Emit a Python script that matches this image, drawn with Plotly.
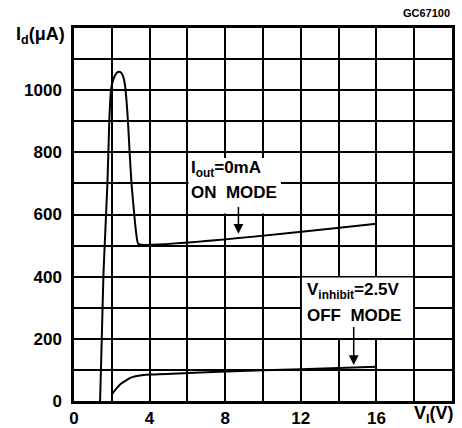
import plotly.graph_objects as go

# ON mode curve (Iout = 0mA)
on_v = [1.38, 1.47, 1.56, 1.77, 1.87, 1.96, 2.05, 2.17, 2.28, 2.4, 2.52, 2.62, 2.7, 2.78, 2.85, 2.94, 3.04, 3.18, 3.29, 3.41, 16]
on_i = [0, 200, 411, 702, 905, 1002, 1028, 1047, 1057, 1059, 1054, 1040, 1015, 965, 905, 803, 702, 605, 540, 505, 570]

# OFF mode curve (Vinhibit = 2.5V)
off_v = [2.03, 2.3, 2.5, 2.8, 3.0, 3.5, 4, 6, 8, 12, 16]
off_i = [24, 44, 56, 68, 75, 82, 85, 90, 95, 102, 110]

x_ticks = [0, 4, 8, 12, 16]
y_ticks = [0, 200, 400, 600, 800, 1000]

FONT = "Liberation Sans"

fig = go.Figure()
fig.add_trace(go.Scatter(x=on_v, y=on_i, mode="lines",
                         line=dict(color="black", width=2, shape="spline", smoothing=0.4),
                         showlegend=False, hoverinfo="skip"))
fig.add_trace(go.Scatter(x=off_v, y=off_i, mode="lines",
                         line=dict(color="black", width=2, shape="spline", smoothing=0.6),
                         showlegend=False, hoverinfo="skip"))

# white label boxes hiding grid lines
fig.add_shape(type="rect", x0=6.06, x1=10.95, y0=603, y1=782, xref="x", yref="y",
              fillcolor="white", line=dict(width=0), layer="between")
fig.add_shape(type="rect", x0=12.06, x1=17.94, y0=203, y1=397, xref="x", yref="y",
              fillcolor="white", line=dict(width=0), layer="between")

ann_font = dict(family=FONT, size=17, color="black", weight="bold")

fig.add_annotation(x=6.1, y=745, xref="x", yref="y", text="I<sub>out</sub>=0mA",
                   showarrow=False, xanchor="left", yanchor="middle", font=ann_font)
fig.add_annotation(x=6.1, y=670, xref="x", yref="y", text="ON&nbsp;&nbsp;MODE",
                   showarrow=False, xanchor="left", yanchor="middle", font=ann_font)
fig.add_annotation(x=8.7, y=538, ax=8.7, ay=629, xref="x", yref="y", axref="x", ayref="y",
                   text="", showarrow=True, arrowhead=2, arrowsize=1.3, arrowwidth=1.5,
                   arrowcolor="black")

fig.add_annotation(x=12.2, y=354, xref="x", yref="y", text="V<sub>inhibit</sub>=2.5V",
                   showarrow=False, xanchor="left", yanchor="middle", font=ann_font)
fig.add_annotation(x=12.2, y=276, xref="x", yref="y", text="OFF&nbsp;&nbsp;MODE",
                   showarrow=False, xanchor="left", yanchor="middle", font=ann_font)
fig.add_annotation(x=14.8, y=116, ax=14.8, ay=243, xref="x", yref="y", axref="x", ayref="y",
                   text="", showarrow=True, arrowhead=2, arrowsize=1.3, arrowwidth=1.5,
                   arrowcolor="black")

# axis titles and code
fig.add_annotation(x=0, y=0.981, xref="paper", yref="paper", xshift=-7,
                   text="I<sub>d</sub>(\u03bcA)", showarrow=False, xanchor="right",
                   yanchor="middle", font=dict(family=FONT, size=18, color="black", weight="bold"))
fig.add_annotation(x=0.952, y=-0.036, xref="paper", yref="paper",
                   text="V<sub>I</sub>(V)", showarrow=False, xanchor="center",
                   yanchor="middle", font=dict(family=FONT, size=18, color="black", weight="bold"))
fig.add_annotation(x=1, y=1.04, xref="paper", yref="paper", text="GC67100",
                   showarrow=False, xanchor="right", yanchor="middle",
                   font=dict(family=FONT, size=11, color="black", weight="bold"))

fig.update_xaxes(range=[0, 20], tickvals=x_ticks, ticktext=[str(v) for v in x_ticks],
                 showgrid=True, gridcolor="black", gridwidth=2,
                 minor=dict(dtick=2, tick0=0, showgrid=True, gridcolor="black", gridwidth=2),
                 showline=True, linecolor="black", linewidth=2.5, mirror=True,
                 zeroline=False, ticks="", ticklabelstandoff=0, automargin=False,
                 tickfont=dict(family=FONT, size=17, color="black", weight="bold"))
fig.update_yaxes(range=[0, 1200], tickvals=y_ticks, ticktext=[str(v) for v in y_ticks],
                 showgrid=True, gridcolor="black", gridwidth=2,
                 minor=dict(dtick=100, tick0=0, showgrid=True, gridcolor="black", gridwidth=2),
                 showline=True, linecolor="black", linewidth=2.5, mirror=True,
                 zeroline=False, ticks="", ticklabelstandoff=6, automargin=False,
                 tickfont=dict(family=FONT, size=17, color="black", weight="bold"))

fig.update_layout(width=462, height=428, margin=dict(l=74, r=10, t=28, b=27, autoexpand=False),
                  plot_bgcolor="white", paper_bgcolor="white",
                  font=dict(family=FONT, color="black"))

fig.write_html("out.html", config={"displayModeBar": False},
               post_script="document.body.style.margin='0px';")
